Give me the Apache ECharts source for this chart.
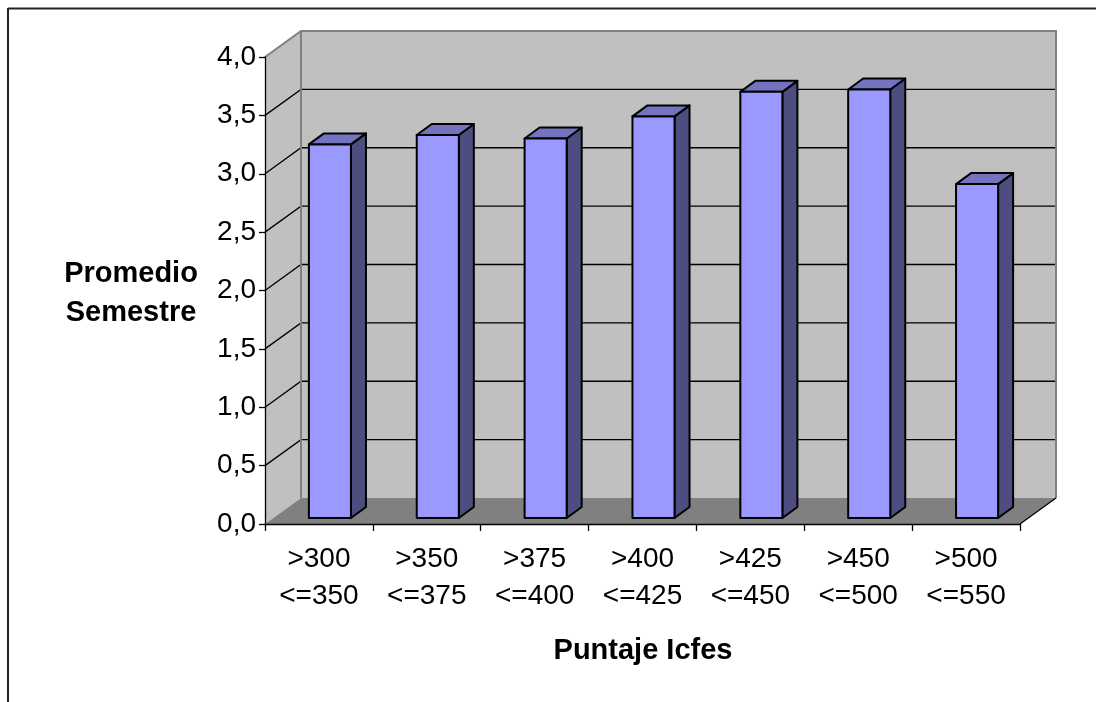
<!DOCTYPE html>
<html>
<head>
<meta charset="utf-8">
<script src="https://cdn.jsdelivr.net/npm/echarts@6/dist/echarts.min.js"></script>
<style>
html,body{margin:0;padding:0;background:#fff;}
#chart{width:1096px;height:702px;}
</style>
</head>
<body>
<div id="chart"></div>
<script>
// ---- data ----
const categories = ['>300\n<=350', '>350\n<=375', '>375\n<=400', '>400\n<=425', '>425\n<=450', '>450\n<=500', '>500\n<=550'];
const promedio = [3.20, 3.28, 3.25, 3.44, 3.65, 3.67, 2.86];
const yTicks = [0.5, 1.0, 1.5, 2.0, 2.5, 3.0, 3.5];
const xTitle = 'Puntaje Icfes';
const yTitle = 'Promedio\nSemestre';

// ---- styling constants ----
const DEPTH = [36, -26];      // wall depth offset
const BAR_SHIFT = [11, -6];   // bar front face offset from front plane
const BAR_DEPTH = [15, -11];  // bar thickness
const FONT = '"Liberation Sans", Arial, sans-serif';

const chart = echarts.init(document.getElementById('chart'), null, {renderer: 'canvas'});

function wallsRender(params, api) {
  const cs = params.coordSys;
  const X0 = cs.x, X1 = cs.x + cs.width, Yt = cs.y, Yb = cs.y + cs.height;
  const dx = DEPTH[0], dy = DEPTH[1];
  const children = [];
  children.push({type: 'polygon', shape: {points: [[X0, Yt], [X0 + dx, Yt + dy], [X0 + dx, Yb + dy], [X0, Yb]]},
    style: {fill: '#C0C0C0', stroke: null}});
  children.push({type: 'rect', shape: {x: X0 + dx, y: Yt + dy, width: X1 - X0, height: Yb - Yt},
    style: {fill: '#C0C0C0', stroke: null}});
  yTicks.forEach(function (v) {
    const y = api.coord([0, v])[1];
    children.push({type: 'polyline', shape: {points: [[X0, y], [X0 + dx, y + dy], [X1 + dx, y + dy]]},
      style: {stroke: '#000', lineWidth: 1.3, fill: null}});
  });
  children.push({type: 'polygon', shape: {points: [[X0, Yb], [X0 + dx, Yb + dy], [X1 + dx, Yb + dy], [X1, Yb]]},
    style: {fill: '#808080', stroke: null}});
  children.push({type: 'polyline', shape: {points: [[X0, Yt], [X0 + dx, Yt + dy], [X1 + dx, Yt + dy], [X1 + dx, Yb + dy]]},
    style: {stroke: '#808080', lineWidth: 2, fill: null}});
  children.push({type: 'line', shape: {x1: X0 + dx, y1: Yt + dy, x2: X0 + dx, y2: Yb + dy},
    style: {stroke: '#808080', lineWidth: 2}});
  children.push({type: 'line', shape: {x1: X1, y1: Yb, x2: X1 + dx, y2: Yb + dy},
    style: {stroke: '#000', lineWidth: 1.3}});
  return {type: 'group', children: children};
}

function barRender(params, api) {
  const idx = api.value(0), v = api.value(1);
  const p = api.coord([idx, v]);
  const p0 = api.coord([idx, 0]);
  const bw = api.size([1, 0])[0] * 0.39;
  const cx = p[0] + BAR_SHIFT[0];
  const top = p[1] + BAR_SHIFT[1];
  const bot = p0[1] + BAR_SHIFT[1];
  const L = cx - bw / 2, R = cx + bw / 2;
  const ddx = BAR_DEPTH[0], ddy = BAR_DEPTH[1];
  const st = {stroke: '#000', lineWidth: 2, lineJoin: 'round'};
  return {type: 'group', children: [
    {type: 'polygon', shape: {points: [[R, top], [R + ddx, top + ddy], [R + ddx, bot + ddy], [R, bot]]},
      style: Object.assign({fill: '#4D4D80'}, st)},
    {type: 'polygon', shape: {points: [[L, top], [L + ddx, top + ddy], [R + ddx, top + ddy], [R, top]]},
      style: Object.assign({fill: '#7373C0'}, st)},
    {type: 'rect', shape: {x: L, y: top, width: bw, height: bot - top},
      style: Object.assign({fill: '#9999FF'}, st)}
  ]};
}

const option = {
  animation: false,
  backgroundColor: '#fff',
  grid: {left: 265, right: 76, top: 57, bottom: 178, containLabel: false},
  xAxis: {
    type: 'category',
    data: categories,
    z: 10,
    axisLine: {show: true, lineStyle: {color: '#000', width: 1.3}},
    axisTick: {show: true, length: 7, lineStyle: {color: '#000', width: 1.3}},
    axisLabel: {interval: 0, margin: 17, color: '#000', fontFamily: FONT, fontSize: 28, lineHeight: 37},
    splitLine: {show: false}
  },
  yAxis: {
    type: 'value',
    min: 0, max: 4, interval: 0.5,
    z: 10,
    axisLine: {show: true, lineStyle: {color: '#000', width: 1.3}},
    axisTick: {show: true, length: 6, lineStyle: {color: '#000', width: 1.3}},
    axisLabel: {margin: 9, color: '#000', fontFamily: FONT, fontSize: 28,
      formatter: function (v) { return v.toFixed(1).replace('.', ','); }},
    splitLine: {show: false}
  },
  series: [
    {type: 'custom', name: 'walls', renderItem: wallsRender, data: [[0, 0]], z: 1, silent: true, clip: false},
    {type: 'custom', name: 'Promedio', renderItem: barRender,
      data: promedio.map(function (v, i) { return [i, v]; }), z: 3, clip: false,
      encode: {x: 0, y: 1}}
  ],
  graphic: [
    {type: 'text', x: 643, y: 651, style: {text: xTitle, textAlign: 'center', textVerticalAlign: 'middle',
      font: 'bold 29px ' + FONT, fill: '#000'}},
    {type: 'text', x: 131, y: 293, style: {text: yTitle, textAlign: 'center', textVerticalAlign: 'middle',
      font: 'bold 29px ' + FONT, fill: '#000', lineHeight: 39}},
    {type: 'line', shape: {x1: 8, y1: 8.5, x2: 1096, y2: 8.5}, style: {stroke: '#222', lineWidth: 2}},
    {type: 'line', shape: {x1: 8, y1: 8, x2: 8, y2: 702}, style: {stroke: '#222', lineWidth: 2}}
  ]
};
chart.setOption(option);
</script>
</body>
</html>
